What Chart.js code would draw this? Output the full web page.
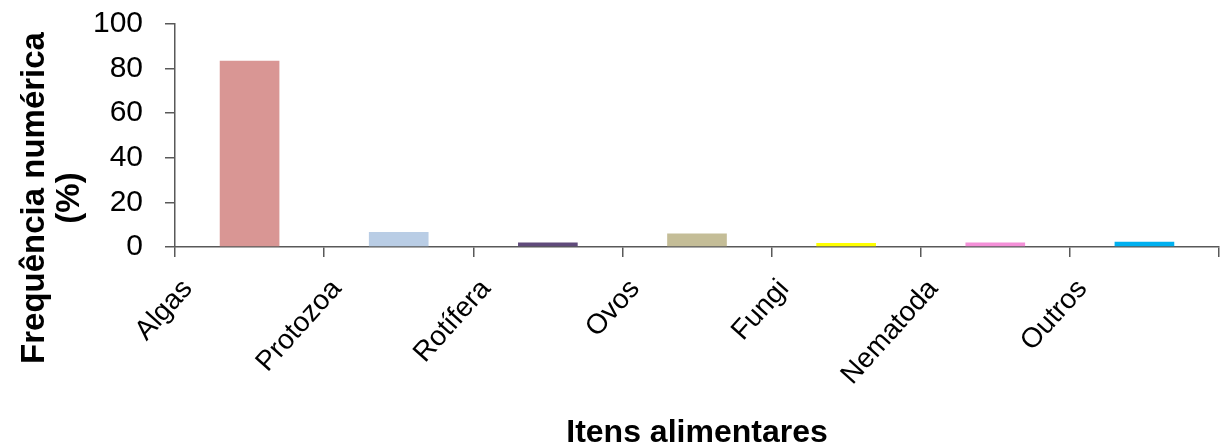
<!DOCTYPE html>
<html>
<head>
<meta charset="utf-8">
<script src="https://cdn.jsdelivr.net/npm/chart.js@4/dist/chart.umd.min.js"></script>
<style>
  html, body { margin: 0; padding: 0; background: #ffffff; }
  #wrap { width: 1229px; height: 446px; }
</style>
</head>
<body>
<div id="wrap"><canvas id="c" width="1229" height="446"></canvas></div>
<script>
// Frequência numérica (%) dos itens alimentares
const categories = ['Algas', 'Protozoa', 'Rotífera', 'Ovos', 'Fungi', 'Nematoda', 'Outros'];
const frequencia = [83.5, 6.7, 2.0, 6.0, 1.8, 2.0, 2.4];
const barColors = ['#D99694', '#B9CDE5', '#604A7B', '#C4BD97', '#FFFF00', '#F490D8', '#00B0F0'];
const yTicks = [0, 20, 40, 60, 80, 100];
const yTitleLines = ['Frequência numérica', '(%)'];
const xTitle = 'Itens alimentares';

const FONT = '"Liberation Sans", Arial, sans-serif';
const AXIS_COLOR = '#595959';

// Two-line vertical title for the value axis
const yTitlePlugin = {
  id: 'yTitle',
  afterDraw(chart) {
    const ctx = chart.ctx;
    const cy = 198;
    ctx.save();
    ctx.fillStyle = '#000000';
    ctx.font = 'bold 33px ' + FONT;
    ctx.textAlign = 'center';
    ctx.textBaseline = 'middle';
    yTitleLines.forEach((line, i) => {
      ctx.save();
      ctx.translate(35 + i * 35, cy);
      ctx.rotate(-Math.PI / 2);
      ctx.fillText(line, 0, 0);
      ctx.restore();
    });
    ctx.restore();
  }
};

new Chart(document.getElementById('c'), {
  type: 'bar',
  data: {
    labels: categories,
    datasets: [{
      data: frequencia,
      backgroundColor: barColors,
      borderWidth: 0,
      categoryPercentage: 0.4,
      barPercentage: 1.0
    }]
  },
  options: {
    responsive: false,
    animation: false,
    layout: { padding: { top: 24, right: 10, bottom: 0, left: 0 } },
    plugins: {
      legend: { display: false },
      tooltip: { enabled: false }
    },
    scales: {
      x: {
        afterFit(scale) { scale.height = 199; },
        grid: {
          display: true,
          drawOnChartArea: false,
          drawTicks: true,
          tickLength: 10,
          color: AXIS_COLOR,
          lineWidth: 1.5,
          offset: true
        },
        border: { display: true, color: AXIS_COLOR, width: 1.5 },
        ticks: {
          color: '#000000',
          font: { family: FONT, size: 28 },
          minRotation: 48,
          maxRotation: 48,
          padding: 16,
          labelOffset: -62,
          autoSkip: false
        },
        title: {
          display: true,
          text: xTitle,
          color: '#000000',
          font: { family: FONT, size: 32, weight: 'bold', lineHeight: 1 },
          padding: { top: 0, bottom: -3 }
        }
      },
      y: {
        min: 0,
        max: 100,
        afterFit(scale) {
          scale.width = 175;
          scale.paddingTop = 0;
          scale.paddingBottom = 0;
        },
        afterBuildTicks(scale) { scale.ticks = yTicks.map(v => ({ value: v })); },
        grid: {
          display: true,
          drawOnChartArea: false,
          drawTicks: true,
          tickLength: 10,
          color: AXIS_COLOR,
          lineWidth: 1.5
        },
        border: { display: true, color: AXIS_COLOR, width: 1.5 },
        ticks: {
          color: '#000000',
          font: { family: FONT, size: 30 },
          padding: 22
        }
      }
    }
  },
  plugins: [yTitlePlugin]
});
</script>
</body>
</html>
